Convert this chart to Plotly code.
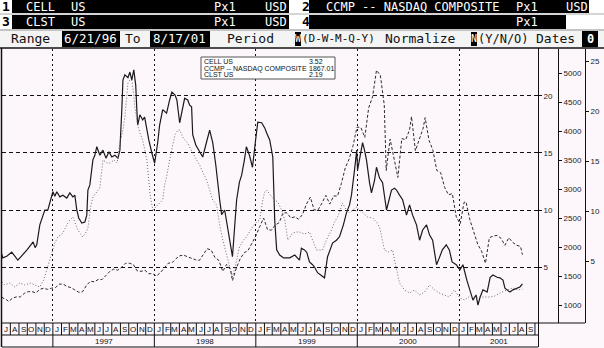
import plotly.graph_objects as go
import pandas as pd

W, H = 604, 348
def X(px): return px / W
def Y(py): return 1 - py / H

# ---------------- data ----------------
cell_dates = ["1996-06-24","1996-07-05","1996-07-19","1996-08-06","1996-08-28","1996-09-15","1996-09-30","1996-10-11",
 "1996-10-22","1996-10-29","1996-11-04","1996-11-15","1996-11-22","1996-12-03","1996-12-14","1996-12-21","1996-12-28",
 "1997-01-01","1997-01-08","1997-01-15","1997-01-26","1997-02-06","1997-02-20","1997-03-03","1997-03-14","1997-03-21",
 "1997-03-28","1997-04-04","1997-04-15","1997-04-26","1997-05-03","1997-05-07","1997-05-14","1997-05-21","1997-05-25",
 "1997-06-01","1997-06-08","1997-06-19","1997-06-30","1997-07-11","1997-07-22","1997-08-01","1997-08-12","1997-08-23",
 "1997-08-30","1997-09-06","1997-09-10","1997-09-17","1997-09-28","1997-10-05","1997-10-12","1997-10-19","1997-10-26",
 "1997-10-30","1997-11-02","1997-11-10","1997-11-20","1997-11-27","1997-12-05","1997-12-12","1997-12-23","1998-01-02",
 "1998-01-13","1998-01-20","1998-01-31","1998-02-14","1998-02-25","1998-03-05","1998-03-16","1998-03-23","1998-04-02",
 "1998-04-13","1998-04-20","1998-05-01","1998-05-08","1998-05-15","1998-05-19","1998-05-30","1998-06-13","1998-06-24",
 "1998-07-05","1998-07-19","1998-07-30","1998-08-10","1998-08-24","1998-08-31","1998-09-11","1998-09-22","1998-10-02",
 "1998-10-09","1998-10-16","1998-10-24","1998-11-03","1998-11-11","1998-11-21","1998-11-28","1998-12-09","1998-12-20",
 "1998-12-31","1999-01-08","1999-01-22","1999-02-02","1999-02-09","1999-02-20","1999-03-03","1999-03-06","1999-03-10",
 "1999-03-17","1999-03-28","1999-04-11","1999-05-03","1999-05-21","1999-06-07","1999-06-14","1999-06-25","1999-07-03",
 "1999-07-13","1999-07-24","1999-07-31","1999-08-11","1999-08-25","1999-09-05","1999-09-16","1999-10-04","1999-10-18",
 "1999-10-29","1999-11-12","1999-11-23","1999-12-04","1999-12-11","1999-12-22","1999-12-30","2000-01-02","2000-01-09",
 "2000-01-20","2000-01-27","2000-02-03","2000-02-14","2000-02-21","2000-03-03","2000-03-10","2000-03-21","2000-04-01",
 "2000-04-15","2000-04-26","2000-05-03","2000-05-14","2000-05-21","2000-06-01","2000-06-12","2000-06-26","2000-07-07",
 "2000-07-18","2000-08-01","2000-08-12","2000-08-23","2000-09-06","2000-09-17","2000-09-28","2000-10-12","2000-10-22",
 "2000-11-02","2000-11-16","2000-11-27","2000-12-07","2000-12-22","2001-01-04","2001-01-15","2001-01-29","2001-02-09",
 "2001-02-20","2001-03-03","2001-03-10","2001-03-17","2001-03-28","2001-04-12","2001-04-23","2001-05-03","2001-05-18",
 "2001-05-28","2001-06-08","2001-06-15","2001-07-03","2001-07-14","2001-07-28","2001-08-08","2001-08-17"]
cell_values = [6.7,5.8,5.95,6.3,5.6,6.05,6.5,6.85,
 7.2,6.7,6.95,8.7,9.3,10.0,10.0,10.6,11.05,
 11.6,11.2,11.6,11.15,11.3,11.05,11.5,11.15,11.3,
 10.0,9.3,8.85,8.95,9.55,11.75,12.2,13.35,14.4,
 14.8,15.55,14.8,15.25,14.55,15.1,14.65,14.8,14.55,
 15.25,18.8,21.4,21.85,21.6,22.1,21.4,22.3,20.95,
 18.8,17.45,18.35,17.9,18.15,17.0,16.15,15.0,14.1,
 15.9,17.45,18.8,18.5,19.65,20.35,20.1,19.65,17.65,
 19.2,19.8,19.65,19.2,19.05,16.6,15.7,15.1,14.65,
 15.7,17.0,15.9,13.95,10.9,9.6,10.0,8.5,7.0,
 5.9,8.25,10.9,12.45,13.05,14.4,15.55,14.8,13.75,
 16.1,17.7,17.65,17.2,16.75,16.15,14.65,12.65,9.1,
 6.5,6.05,5.8,5.8,6.05,5.6,6.65,6.5,6.3,
 5.45,5.2,5.0,4.5,4.2,4.05,5.9,7.1,7.35,
 7.65,8.7,9.75,10.45,11.3,13.5,15.25,13.5,14.4,
 15.9,15.25,14.4,12.4,11.5,12.6,13.75,12.8,12.4,
 10.0,11.15,11.75,11.9,11.75,11.3,10.9,9.55,10.45,
 9.55,8.7,7.35,8.25,8.7,7.8,7.35,5.2,5.8,
 6.5,6.95,6.5,5.45,5.2,4.75,5.2,3.85,3.0,
 2.1,2.55,1.65,2.3,3.0,2.8,4.1,4.3,4.1,
 4.05,3.85,3.15,2.8,3.0,3.15,3.25,3.52]

ccmp_dates = ["1996-06-21","1996-07-05","1996-07-19","1996-07-26","1996-08-09","1996-08-23","1996-09-06","1996-09-20",
 "1996-10-04","1996-10-18","1996-11-01","1996-11-15","1996-11-29","1996-12-13","1996-12-27","1997-01-10","1997-01-24",
 "1997-02-07","1997-02-21","1997-03-07","1997-03-21","1997-04-04","1997-04-18","1997-05-02","1997-05-16","1997-05-30",
 "1997-06-13","1997-06-27","1997-07-11","1997-07-25","1997-08-08","1997-08-22","1997-09-05","1997-09-19","1997-10-03",
 "1997-10-17","1997-10-31","1997-11-14","1997-11-28","1997-12-12","1997-12-26","1998-01-09","1998-01-23","1998-02-06",
 "1998-02-20","1998-03-06","1998-03-20","1998-04-03","1998-04-17","1998-05-01","1998-05-15","1998-05-29","1998-06-12",
 "1998-06-26","1998-07-10","1998-07-24","1998-08-07","1998-08-21","1998-09-04","1998-09-18","1998-10-02","1998-10-09",
 "1998-10-23","1998-11-06","1998-11-20","1998-12-04","1998-12-18","1999-01-01","1999-01-15","1999-01-29","1999-02-12",
 "1999-02-26","1999-03-12","1999-03-26","1999-04-09","1999-04-23","1999-05-07","1999-05-21","1999-06-04","1999-06-18",
 "1999-07-02","1999-07-16","1999-07-30","1999-08-13","1999-08-27","1999-09-10","1999-09-24","1999-10-08","1999-10-22",
 "1999-11-05","1999-11-19","1999-12-03","1999-12-17","1999-12-31","2000-01-14","2000-01-28","2000-02-11","2000-02-25",
 "2000-03-10","2000-03-24","2000-04-07","2000-04-14","2000-04-28","2000-05-12","2000-05-26","2000-06-09","2000-06-23",
 "2000-07-07","2000-07-14","2000-07-28","2000-08-11","2000-08-25","2000-09-01","2000-09-15","2000-09-29","2000-10-13",
 "2000-10-27","2000-11-10","2000-11-24","2000-12-08","2000-12-22","2001-01-05","2001-01-19","2001-01-26","2001-02-09",
 "2001-02-23","2001-03-09","2001-03-23","2001-04-06","2001-04-20","2001-05-04","2001-05-18","2001-06-01","2001-06-15",
 "2001-06-29","2001-07-13","2001-07-27","2001-08-10","2001-08-17"]
ccmp_values = [1210,1120,1090,1060,1120,1140,1140,1200,
 1230,1230,1210,1270,1290,1270,1290,1300,1360,
 1360,1320,1300,1260,1220,1230,1340,1410,1400,
 1440,1440,1510,1580,1620,1600,1650,1720,1720,
 1700,1590,1580,1600,1540,1540,1500,1560,1650,
 1720,1730,1800,1850,1860,1830,1800,1780,1770,
 1880,1970,1950,1820,1770,1580,1700,1610,1420,
 1640,1800,1900,1940,2070,2190,2350,2500,2300,
 2290,2380,2420,2590,2590,2500,2520,2480,2560,
 2740,2860,2640,2640,2760,2890,2740,2880,2880,
 3100,3370,3520,3750,4069,4060,3890,4400,4590,
 5048,4960,4450,3320,3860,3530,3200,3870,3850,
 4020,4250,3660,3860,4050,4230,3840,3670,3320,
 3280,3030,2900,2920,2520,2400,2770,2780,2470,
 2260,2050,1930,1720,2160,2190,2200,2150,2030,
 2160,2080,2030,2010,1867.01]

clst_dates = ["1996-06-24","1996-07-12","1996-07-30","1996-08-17","1996-09-04","1996-09-22","1996-10-11","1996-10-29",
 "1996-11-15","1996-11-29","1996-12-10","1996-12-21","1996-12-28","1997-01-08","1997-01-19","1997-02-06","1997-02-20",
 "1997-03-03","1997-03-14","1997-03-25","1997-04-01","1997-04-18","1997-04-29","1997-05-07","1997-05-18","1997-05-25",
 "1997-06-12","1997-06-19","1997-06-26","1997-06-30","1997-07-15","1997-07-26","1997-08-09","1997-08-20","1997-08-30",
 "1997-09-10","1997-09-17","1997-09-24","1997-09-28","1997-10-05","1997-10-12","1997-10-19","1997-10-23","1997-11-02",
 "1997-11-10","1997-11-20","1997-12-05","1997-12-12","1997-12-16","1997-12-23","1997-12-27","1998-01-06","1998-01-20",
 "1998-01-31","1998-02-07","1998-02-14","1998-02-25","1998-03-05","1998-03-16","1998-03-27","1998-04-02","1998-04-13",
 "1998-04-20","1998-05-01","1998-05-12","1998-05-19","1998-06-02","1998-06-13","1998-06-24","1998-07-08","1998-07-19",
 "1998-07-30","1998-08-13","1998-08-24","1998-09-04","1998-09-18","1998-09-29","1998-10-09","1998-10-20","1998-11-03",
 "1998-11-18","1998-11-28","1998-12-09","1998-12-20","1999-01-04","1999-01-15","1999-01-26","1999-02-02","1999-02-09",
 "1999-02-20","1999-02-27","1999-03-10","1999-03-21","1999-04-04","1999-04-15","1999-04-26","1999-05-03","1999-05-14",
 "1999-05-28","1999-06-07","1999-06-25","1999-07-13","1999-07-24","1999-08-07","1999-08-18","1999-08-29","1999-09-12",
 "1999-09-30","1999-10-11","1999-10-22","1999-11-01","1999-11-08","1999-11-23","1999-12-04","1999-12-15","1999-12-30",
 "2000-01-09","2000-01-20","2000-02-07","2000-02-25","2000-03-10","2000-03-21","2000-04-01","2000-04-08","2000-04-22",
 "2000-05-07","2000-05-14","2000-05-21","2000-06-01","2000-06-19","2000-07-07","2000-07-25","2000-08-12","2000-08-30",
 "2000-09-17","2000-10-05","2000-10-22","2000-11-09","2000-11-27","2000-12-15","2001-01-04","2001-01-22","2001-02-09",
 "2001-02-27","2001-03-17","2001-04-04","2001-04-23","2001-05-10","2001-05-28","2001-06-22","2001-07-14","2001-08-01",
 "2001-08-17"]
clst_values = [3.1,2.6,2.8,2.4,2.8,2.6,2.8,2.6,
 2.4,3.1,4.1,5.1,5.8,6.8,7.4,7.8,8.6,
 9.1,9.4,8.6,8.1,7.4,7.8,8.3,10.6,11.4,
 12.1,12.3,14.1,15.1,14.8,14.8,15.1,14.8,16.8,
 18.1,19.4,21.6,22.8,23.1,23.1,21.6,20.4,18.6,
 17.8,17.1,15.1,13.1,11.8,10.6,10.1,10.4,10.8,
 11.1,12.6,13.4,15.1,16.1,17.6,18.1,18.1,17.4,
 17.1,16.8,16.1,15.8,15.1,14.6,13.9,13.1,12.1,
 11.1,10.6,8.6,7.1,5.6,4.6,3.4,4.6,6.4,
 7.1,7.4,7.9,8.4,8.9,9.1,11.1,11.9,12.1,
 11.6,11.4,11.1,10.9,10.1,9.1,7.1,7.4,7.8,
 7.9,7.9,7.7,7.9,7.1,6.1,6.1,6.1,7.1,
 8.1,8.9,9.4,10.1,10.8,10.1,9.8,10.1,10.4,
 10.1,9.8,9.4,9.3,8.9,8.4,7.1,6.1,5.9,
 6.1,5.1,4.1,2.8,2.1,1.8,2.1,1.6,1.9,
 2.6,2.1,1.8,1.6,1.4,2.1,1.3,1.1,1.5,
 1.3,1.4,1.4,1.4,1.5,1.8,2.1,2.3,2.1,
 2.19]

legend_names = ["CELL US", "CCMP -- NASDAQ COMPOSITE", "CLST US"]
legend_last = ["3.52", "1867.01", "2.19"]

cell_ticks = [5, 10, 15, 20]
ccmp_ticks = [1000, 1500, 2000, 2500, 3000, 3500, 4000, 4500, 5000]
clst_ticks = [5, 10, 15, 20, 25]
year_labels = ["1997", "1998", "1999", "2000", "2001"]
month_letters = ["J", "F", "M", "A", "M", "J", "J", "A", "S", "O", "N", "D"]

x_range = ["1996-07-02", "2001-10-12"]

# ---------------- figure ----------------
BG = "#fdf7fc"
fig = go.Figure()
fig.add_trace(go.Scatter(x=cell_dates, y=cell_values, mode="lines", yaxis="y",
                         line=dict(color="#1a1a1a", width=1.2), name=legend_names[0]))
fig.add_trace(go.Scatter(x=ccmp_dates, y=ccmp_values, mode="lines", yaxis="y2",
                         line=dict(color="#2a2a2a", width=1, dash="3px,2px"), name=legend_names[1]))
fig.add_trace(go.Scatter(x=clst_dates, y=clst_values, mode="lines", yaxis="y3",
                         line=dict(color="#6a6a6a", width=1, dash="1px,2px"), name=legend_names[2]))

top, bot = 49, 323
ydom = [Y(bot), Y(top)]
axfont = dict(family="Liberation Sans, Arial", size=8, color="#222")
common_y = dict(showline=True, linecolor="#111", linewidth=1, ticks="outside", ticklen=3,
                tickcolor="#111", tickfont=axfont, zeroline=False, fixedrange=True)

fig.update_layout(
    width=W, height=H, margin=dict(l=0, r=0, t=0, b=0),
    paper_bgcolor=BG, plot_bgcolor=BG, showlegend=False,
    xaxis=dict(domain=[X(2), X(538)], range=x_range, type="date",
               tickvals=[f"{y}-01-01" for y in year_labels], showticklabels=False, ticks="",
               showgrid=True, gridcolor="#111", gridwidth=1, griddash="2px,3px",
               zeroline=False, showline=False),
    yaxis=dict(domain=ydom, range=[0.09, 24.12], side="right", anchor="x",
               tickvals=cell_ticks, showgrid=True, gridcolor="#111", gridwidth=1,
               griddash="4px,3px", **common_y),
    yaxis2=dict(domain=ydom, range=[690, 5414], side="right", overlaying="y", anchor="free",
                position=X(558), tickvals=ccmp_ticks, showgrid=False, **common_y),
    yaxis3=dict(domain=ydom, range=[-1.2, 26.2], side="right", overlaying="y", anchor="free",
                position=X(585), tickvals=clst_ticks, showgrid=False, **common_y),
)

shapes = []
anns = []
def rect(x0, y0, x1, y1, fill, line=None, lw=0):
    shapes.append(dict(type="rect", xref="paper", yref="paper", x0=X(x0), x1=X(x1), y0=Y(y1), y1=Y(y0),
                       fillcolor=fill, line=dict(color=line or fill, width=lw), layer="above"))
def hline(x0, x1, y, color="#111", w=1):
    shapes.append(dict(type="line", xref="paper", yref="paper", x0=X(x0), x1=X(x1), y0=Y(y), y1=Y(y),
                       line=dict(color=color, width=w), layer="above"))
def vline(x, y0, y1, color="#111", w=1):
    shapes.append(dict(type="line", xref="paper", yref="paper", x0=X(x), x1=X(x), y0=Y(y0), y1=Y(y1),
                       line=dict(color=color, width=w), layer="above"))
def text(x, y, s, size=12, color="white", family="DejaVu Sans Mono", anchor="left", bold=False, pad=0):
    if bold:
        s = f"<b>{s}</b>"
    anns.append(dict(xref="paper", yref="paper", x=X(x), y=Y(y), text=s, showarrow=False,
                     xanchor=anchor, yanchor="middle", borderpad=pad,
                     font=dict(family=family, size=size, color=color)))

# header rows
rect(0, 0, 604, 48, "#ffffff")
rect(12, 0, 289, 13, "#000")
rect(309, 0, 589, 13, "#000")
rect(12, 15, 289, 29, "#000")
rect(309, 15, 566, 29, "#000")
hline(0, 604, 14, "#aaa", 1)
hline(0, 604, 30, "#888", 1)
text(1, 7, "1", 13, "#000", bold=True)
text(1, 22, "3", 13, "#000", bold=True)
text(301, 7, "2", 13, "#000", bold=True)
text(301, 22, "4", 13, "#000", bold=True)
text(25, 7, "CELL", 12); text(70, 7, "US", 12); text(213, 7, "Px1", 12); text(264, 7, "USD", 12)
text(25, 22, "CLST", 12); text(70, 22, "US", 12); text(213, 22, "Px1", 12); text(264, 22, "USD", 12)
text(325, 7, "CCMP -- NASDAQ COMPOSITE", 12); text(515, 7, "Px1", 12); text(565, 7, "USD", 12)
text(515, 22, "Px1", 12)
# row 3
rect(0, 31, 604, 47, "#f4f4f4")
rect(62, 31, 120, 47, "#000")
rect(150, 31, 210, 47, "#000")
rect(295, 32, 301, 46, "#000")
rect(471, 32, 477, 46, "#000")
rect(582, 31, 598, 47, "#000")
text(10, 39, "Range", 13, "#111")
text(63, 39, "6/21/96", 12.5, "white")
text(124, 39, "To", 13, "#111")
text(152, 39, "8/17/01", 12.5, "white")
text(226, 39, "Period", 13, "#111")
text(294, 39, "W", 10, "white")
text(301, 39, "(D-W-M-Q-Y)", 11, "#111")
text(384, 39, "Normalize", 13, "#111")
text(470, 39, "N", 10, "white")
text(477, 39, "(Y/N/O)", 12, "#111")
text(535, 39, "Dates", 13, "#111")
text(586, 39, "0", 12, "white", bold=True)
hline(0, 604, 48, "#111", 1.5)

# plot frame
vline(1.5, 48, 347, "#111", 1.5)
vline(538.5, 48, 347, "#111", 1)
hline(538, 585, 323, "#111", 1)

# month / year band
hline(2, 538, 323, "#111", 1)
hline(2, 538, 335, "#111", 1)
hline(2, 538, 347, "#111", 1)
month_starts = pd.date_range("1996-08-01", "2001-10-01", freq="MS")
for d in month_starts:
    is_year = d.month == 1
    shapes.append(dict(type="line", xref="x", yref="paper", x0=d, x1=d,
                       y0=Y(347 if is_year else 335), y1=Y(323),
                       line=dict(color="#111", width=1), layer="above"))
for d in pd.date_range("1996-07-01", "2001-09-01", freq="MS"):
    mid = d + pd.Timedelta(days=15)
    if d.year == 1996 and d.month == 7:
        mid = d + pd.Timedelta(days=17)
    anns.append(dict(xref="x", yref="paper", x=mid, y=Y(329), text=month_letters[d.month - 1],
                     showarrow=False, xanchor="center", yanchor="middle",
                     font=dict(family="Liberation Sans, Arial", size=8, color="#111")))
for i, yl in enumerate(year_labels):
    start = pd.Timestamp(f"{yl}-01-01")
    end = pd.Timestamp(f"{int(yl)+1}-01-01") if yl != "2001" else pd.Timestamp(x_range[1])
    mid = start + (end - start) / 2
    anns.append(dict(xref="x", yref="paper", x=mid, y=Y(341), text=yl, showarrow=False,
                     xanchor="center", yanchor="middle",
                     font=dict(family="Liberation Sans, Arial", size=8, color="#111")))

# legend box
rect(201, 57, 335, 79, "#ffffff", "#555", 1)
for i, (nm, lv) in enumerate(zip(legend_names, legend_last)):
    yy = 62 + i * 6.5
    text(203, yy, nm, 7, "#111", "Liberation Sans, Arial")
    text(308, yy, lv, 7, "#111", "Liberation Sans, Arial")

fig.update_layout(shapes=shapes, annotations=anns)
fig.write_html("out.html")
